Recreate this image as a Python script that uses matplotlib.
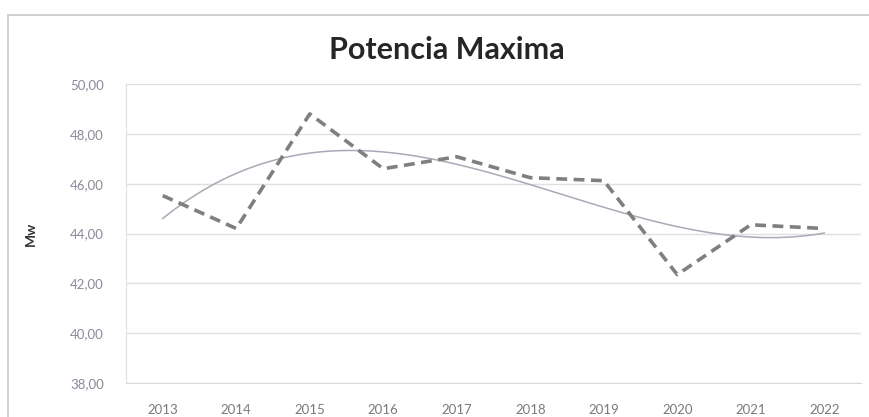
import numpy as np
import matplotlib
matplotlib.use('Agg')
import matplotlib.pyplot as plt
from matplotlib.patches import Rectangle

years = ['2013', '2014', '2015', '2016', '2017', '2018', '2019', '2020', '2021', '2022']
potencia = [45.52, 44.20, 48.80, 46.60, 47.08, 46.24, 46.12, 42.35, 44.35, 44.20]
yticks = [38, 40, 42, 44, 46, 48, 50]

plt.rcParams['font.family'] = ['Lato', 'DejaVu Sans']

W, H = 869, 417
fig = plt.figure(figsize=(W / 100, H / 100), dpi=100)
fig.patch.set_facecolor('white')

# chart area frame (scanned page, only top and left edges visible)
fig.patches.append(Rectangle((8 / W, -0.05), 1.1, (H - 15) / H + 0.05,
                             transform=fig.transFigure, fill=False,
                             edgecolor='#c8c8c8', lw=1.2))

ax = fig.add_axes([126 / W, 1 - 383 / H, (861 - 126) / W, (383 - 84) / H])
x = np.arange(len(years))

# polynomial trendline like the Excel one
coef = np.polyfit(x, potencia, 3)
xs = np.linspace(0, len(years) - 1, 200)
ax.plot(xs, np.polyval(coef, xs), color='#a9a9b8', lw=1.1)
ax.plot(x, potencia, color='#7f7f7f', lw=2.6, ls=(0, (3, 1.8)))

ax.set_xlim(-0.5, len(years) - 0.5)
ax.set_ylim(38, 50)
ax.set_yticks(yticks)
ax.set_yticklabels(['{:.2f}'.format(v).replace('.', ',') for v in yticks])
ax.set_xticks(x)
ax.set_xticklabels(years)
ax.yaxis.grid(True, color='#e0e0e0', lw=1)
ax.set_axisbelow(True)
for s in ['top', 'right']:
    ax.spines[s].set_visible(False)
ax.spines['left'].set_color('#e0e0e0')
ax.spines['bottom'].set_color('#d9d9d9')
ax.tick_params(axis='y', length=0, pad=16, labelsize=9.5, labelcolor='#8a8a9a')
ax.tick_params(axis='x', length=0, pad=15, labelsize=9.5, labelcolor='#7a7a7a')
ax.set_ylabel('Mw', fontsize=10, fontweight='bold', color='#333333', labelpad=24)

fig.text(447 / W, 1 - 50 / H, 'Potencia Maxima', ha='center', va='center',
         fontsize=22, fontweight='bold', color='#262626')

fig.savefig('out.png', dpi=100)
